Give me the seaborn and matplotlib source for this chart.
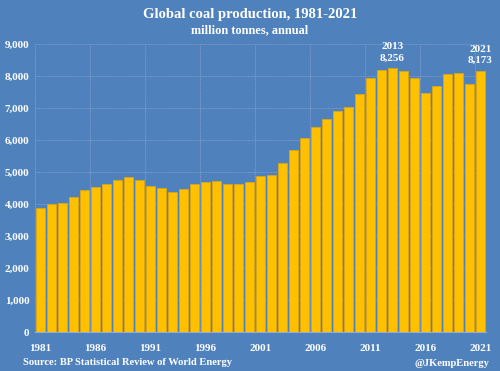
import seaborn as sns
import pandas as pd
import matplotlib.pyplot as plt
from matplotlib.ticker import FixedLocator, FuncFormatter

years = list(range(1981, 2022))
production = [3890, 4025, 4030, 4235, 4440, 4555, 4650, 4765, 4840, 4745,
              4565, 4525, 4400, 4485, 4620, 4685, 4715, 4630, 4630, 4685,
              4890, 4930, 5295, 5700, 6075, 6410, 6655, 6930, 7035, 7460,
              7950, 8190, 8256, 8180, 7950, 7470, 7700, 8065, 8110, 7745,
              8173]
callouts = {2013: '2013\n8,256', 2021: '2021\n8,173'}

bg = '#4f81bd'
gold = '#ffc000'
grid_col = '#7d9bc8'
serif = ['Liberation Serif', 'DejaVu Serif']

df = pd.DataFrame({'year': years, 'mt': production})

sns.set_style('white')
plt.rcParams['font.family'] = serif
plt.rcParams['font.weight'] = 'bold'

fig = plt.figure(figsize=(5, 3.71), dpi=100, facecolor=bg)
ax = fig.add_axes([0.07, 0.1043, 0.902, 0.7763], facecolor=bg)

sns.barplot(data=df, x='year', y='mt', color=gold, saturation=1,
            width=0.78, edgecolor='#dba514', linewidth=0.6, ax=ax, zorder=3)

ax.set_xlim(-0.5, len(years) - 0.5)
ax.set_ylim(0, 9000)
ax.set_yticks(range(0, 9001, 1000))
ax.yaxis.set_major_formatter(FuncFormatter(lambda v, p: f'{int(v):,}'))
ax.set_xticks(range(0, len(years), 5))
ax.set_xticklabels([str(y) for y in years[::5]])
ax.xaxis.set_minor_locator(FixedLocator([i - 0.5 for i in range(0, len(years), 5)]))

ax.grid(axis='y', which='major', color=grid_col, linestyle=(0, (2, 1)), linewidth=0.6, zorder=0)
ax.grid(axis='x', which='minor', color=grid_col, linestyle=(0, (2, 1)), linewidth=0.6, zorder=0)
ax.tick_params(axis='both', which='both', length=0, colors='white', labelsize=8)
ax.tick_params(axis='y', pad=4)
ax.tick_params(axis='x', pad=8.5)
for lab in ax.get_xticklabels() + ax.get_yticklabels():
    lab.set_fontweight('bold')
for side in ['top', 'right', 'left']:
    ax.spines[side].set_visible(False)
ax.spines['bottom'].set_color('#94acd2')
ax.spines['bottom'].set_linewidth(0.8)
ax.set_xlabel('')
ax.set_ylabel('')

for yr, txt in callouts.items():
    i = years.index(yr)
    ax.annotate(txt, (i, production[i]), xytext=(0, 4), textcoords='offset points',
                ha='center', va='bottom', color='white', fontsize=8,
                fontweight='bold', linespacing=1.3)

fig.text(0.5, 0.962, 'Global coal production, 1981-2021', ha='center', va='center',
         color='white', fontsize=10.5, fontweight='bold')
fig.text(0.5, 0.92, 'million tonnes, annual', ha='center', va='center',
         color='white', fontsize=8.8, fontweight='bold')
fig.text(0.046, 0.022, 'Source: BP Statistical Review of World Energy', ha='left', va='center',
         color='white', fontsize=7.6, fontweight='bold')
fig.text(0.978, 0.02, '@JKempEnergy', ha='right', va='center',
         color='white', fontsize=7.6, fontweight='bold')

fig.savefig('out.png', dpi=100, facecolor=bg)
